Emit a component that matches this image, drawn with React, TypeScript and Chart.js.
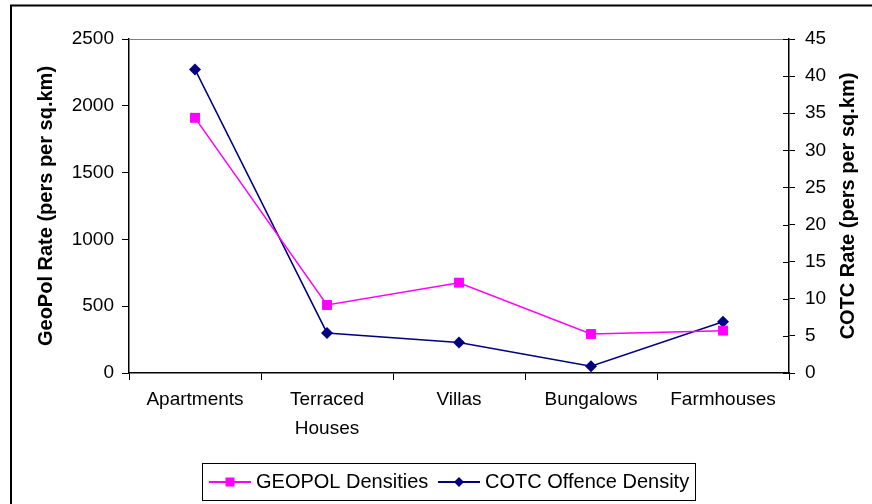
import React, { useEffect, useRef } from 'react';
import { Chart, registerables } from 'chart.js';

Chart.register(...registerables);

const categories: string[][] = [['Apartments'], ['Terraced', 'Houses'], ['Villas'], ['Bungalows'], ['Farmhouses']];
const geopolLabel = 'GEOPOL Densities';
const cotcLabel = 'COTC Offence Density';
const geopolDensities = [1910, 509, 676, 292, 317];
const cotcOffenceDensity = [40.9, 5.4, 4.1, 0.9, 6.9];
const leftAxisTitle = 'GeoPol Rate (pers per sq.km)';
const rightAxisTitle = 'COTC Rate (pers per sq.km)';
const leftMax = 2500;
const leftStep = 500;
const rightMax = 45;
const rightStep = 5;

const FONT = '"Liberation Sans", Arial, sans-serif';
const PINK = '#FF00FF';
const NAVY = '#000080';

const decorPlugin = {
  id: 'decor',
  beforeDraw(chart: any) {
    const ctx = chart.ctx;
    ctx.save();
    ctx.fillStyle = '#fff';
    ctx.fillRect(0, 0, chart.width, chart.height);
    ctx.strokeStyle = '#000';
    ctx.lineWidth = 2;
    ctx.strokeRect(11, 5.5, 2000, 2000);
    ctx.restore();
  },
  afterDraw(chart: any) {
    const ctx = chart.ctx;
    const area = chart.chartArea;
    ctx.save();
    // grey plot-area top edge
    ctx.strokeStyle = '#808080';
    ctx.lineWidth = 1;
    ctx.beginPath();
    ctx.moveTo(area.left, area.top + 0.5);
    ctx.lineTo(area.right, area.top + 0.5);
    ctx.stroke();
    // right axis: ticks crossing inward
    const y1 = chart.scales.y1;
    ctx.strokeStyle = '#000';
    ctx.lineWidth = 1;
    y1.ticks.forEach((t: any, i: number) => {
      const yy = Math.round(y1.getPixelForTick(i)) + 0.5;
      ctx.beginPath();
      ctx.moveTo(area.right - 6, yy);
      ctx.lineTo(area.right, yy);
      ctx.stroke();
    });
    // right axis title, reading bottom-to-top like the left one
    ctx.save();
    ctx.translate(848, (area.top + area.bottom) / 2);
    ctx.rotate(-Math.PI / 2);
    ctx.font = `bold 20px ${FONT}`;
    ctx.fillStyle = '#000';
    ctx.textAlign = 'center';
    ctx.textBaseline = 'middle';
    ctx.fillText(rightAxisTitle, 0, 0);
    ctx.restore();
    // legend
    const lx = 202.5, ly = 463.5, lw = 493, lh = 37;
    ctx.strokeStyle = '#000';
    ctx.lineWidth = 1;
    ctx.strokeRect(lx, ly, lw, lh);
    const cy = 482;
    const items = chart.data.datasets;
    const starts = [209, 438];
    ctx.font = `20px ${FONT}`;
    ctx.textBaseline = 'middle';
    ctx.textAlign = 'left';
    items.forEach((d: any, i: number) => {
      const sx = starts[i];
      ctx.strokeStyle = d.borderColor;
      ctx.lineWidth = 2;
      ctx.beginPath();
      ctx.moveTo(sx, cy);
      ctx.lineTo(sx + 42, cy);
      ctx.stroke();
      ctx.fillStyle = d.borderColor;
      const mx = sx + 21;
      if (d.pointStyle === 'rect') {
        ctx.fillRect(mx - 4.5, cy - 4.5, 9, 9);
      } else {
        ctx.beginPath();
        ctx.moveTo(mx, cy - 5);
        ctx.lineTo(mx + 5, cy);
        ctx.lineTo(mx, cy + 5);
        ctx.lineTo(mx - 5, cy);
        ctx.closePath();
        ctx.fill();
      }
      ctx.fillStyle = '#000';
      ctx.fillText(d.label, sx + 47, cy);
    });
    ctx.restore();
  },
};

export default function App() {
  const ref = useRef<HTMLCanvasElement | null>(null);

  useEffect(() => {
    if (!ref.current) return;
    const tickFont = { family: FONT, size: 19 };
    const titleFont = { family: FONT, size: 20, weight: 'bold' as const };
    const chart = new Chart(ref.current, {
      type: 'line',
      data: {
        labels: categories,
        datasets: [
          {
            label: geopolLabel,
            data: geopolDensities,
            yAxisID: 'y',
            borderColor: PINK,
            backgroundColor: PINK,
            borderWidth: 1.5,
            pointStyle: 'rect',
            pointRadius: 7,
            pointBorderWidth: 0,
            tension: 0,
          },
          {
            label: cotcLabel,
            data: cotcOffenceDensity,
            yAxisID: 'y1',
            borderColor: NAVY,
            backgroundColor: NAVY,
            borderWidth: 1.5,
            pointStyle: 'rectRot',
            pointRadius: 6,
            pointBorderWidth: 0,
            tension: 0,
          },
        ],
      },
      options: {
        responsive: false,
        animation: false,
        layout: { padding: { top: 39, left: 0, right: 0, bottom: 0 } },
        plugins: {
          legend: { display: false },
          tooltip: { enabled: false },
        },
        scales: {
          x: {
            offset: true,
            grid: {
              offset: true,
              drawOnChartArea: false,
              drawTicks: true,
              tickLength: 7,
              color: '#000',
              lineWidth: 1,
            },
            border: { display: true, color: '#000', width: 1.5 },
            ticks: { font: { ...tickFont, lineHeight: 1.5 }, color: '#000', padding: 6, maxRotation: 0, autoSkip: false },
            afterFit: (s: any) => { s.height = 131; },
          },
          y: {
            position: 'left',
            min: 0,
            max: leftMax,
            grid: { drawOnChartArea: false, drawTicks: true, tickLength: 7, color: '#000' },
            border: { display: true, color: '#000', width: 1.5 },
            ticks: { stepSize: leftStep, font: tickFont, color: '#000', padding: 8, callback: (v: any) => String(v) },
            title: { display: true, text: leftAxisTitle, font: titleFont, color: '#000', padding: { top: 34, bottom: 0 } },
            afterFit: (s: any) => { s.width = 129; },
          },
          y1: {
            position: 'right',
            min: 0,
            max: rightMax,
            grid: { drawOnChartArea: false, drawTicks: true, tickLength: 6, color: '#000' },
            border: { display: true, color: '#000', width: 1.5 },
            ticks: { stepSize: rightStep, font: tickFont, color: '#000', padding: 10, callback: (v: any) => String(v) },
            title: { display: false, text: rightAxisTitle },
            afterFit: (s: any) => { s.width = 83; },
          },
        },
      },
      plugins: [decorPlugin],
    });
    return () => chart.destroy();
  }, []);

  return (
    <div style={{ position: 'fixed', left: 0, top: 0, width: 872, height: 504, overflow: 'hidden', background: '#fff' }}>
      <canvas ref={ref} width={872} height={504} style={{ display: 'block', width: 872, height: 504 }} />
    </div>
  );
}
